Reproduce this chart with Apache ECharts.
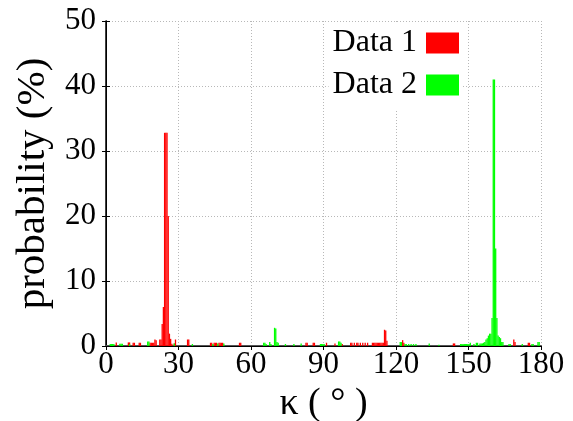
<!DOCTYPE html>
<html>
<head>
<meta charset="utf-8">
<script src="https://cdn.jsdelivr.net/npm/echarts@6/dist/echarts.min.js"></script>
<style>
html,body{margin:0;padding:0;background:#fff;}
</style>
</head>
<body>
<div id="chart" style="width:573px;height:421px;"></div>
<script>
// bin centres (deg, 0.5 deg bins) and probability (%)
var kappa1 = [4.25, 9.25, 9.75, 11.25, 11.75, 13.75, 14.25, 18.25, 18.75, 19.25, 19.75, 20.25, 20.75,
    22.25, 22.75, 23.25, 23.75, 24.25, 24.75, 25.25, 25.75, 26.25, 26.75, 27.25, 28.25, 28.75,
    33.75, 34.25, 43.25, 43.75, 44.75, 45.25, 45.75, 46.75, 47.25, 47.75, 48.25, 55.25, 55.75,
    82.75, 83.25, 85.75, 86.25, 91.25, 94.75, 97.75,
    101.25, 101.75, 102.75, 103.75, 104.25, 105.25, 106.25, 107.25, 108.25,
    110.25, 110.75, 111.25, 111.75, 112.25, 112.75, 113.25, 113.75, 114.25, 114.75, 115.25, 115.75, 116.25,
    122.75, 123.25, 143.75, 144.25, 156.25, 168.75, 169.25, 174.75, 175.25];
var prob1 = [0.55, 0.55, 0.55, 0.5, 0.5, 0.5, 0.5, 0.5, 0.5, 0.5, 0.5, 1.0, 0.9,
    1.0, 1.0, 3.4, 6.0, 32.8, 32.8, 32.8, 20.0, 1.9, 1.1, 0.35, 0.4, 1.0,
    1.0, 1.0, 0.5, 0.5, 0.5, 0.5, 0.5, 0.5, 0.5, 0.5, 0.5, 0.5, 0.5,
    0.5, 0.5, 0.5, 0.5, 0.5, 0.4, 0.3,
    0.5, 0.5, 0.5, 0.5, 0.5, 0.5, 0.5, 0.5, 0.5,
    0.5, 0.5, 0.5, 0.5, 0.5, 0.5, 0.5, 0.5, 0.5, 0.5, 2.5, 2.4, 0.8,
    0.9, 0.5, 0.4, 0.4, 0.3, 1.0, 0.6, 0.5, 0.5];

var kappa2 = [1.75, 2.25, 2.75, 3.25, 5.75, 6.25, 6.75, 9.75, 17.25, 17.75, 28.25, 35.75, 44.25, 46.25, 48.75,
    65.25, 65.75, 66.25, 67.75, 68.25, 69.75, 70.25, 70.75, 71.25, 74.25, 77.75, 80.75,
    88.75, 89.25, 89.75, 90.25, 96.25, 96.75, 97.25,
    121.75, 122.25, 123.75, 124.25, 125.25, 126.25, 127.25, 128.25, 133.75, 137.75,
    146.75, 147.25, 147.75, 148.25, 148.75, 149.25, 149.75, 150.25, 150.75, 152.25, 153.25, 153.75,
    154.75, 155.25, 155.75, 156.25, 156.75, 157.25, 157.75, 158.25, 158.75, 159.25, 159.75,
    160.25, 160.75, 161.25, 161.75, 162.25, 162.75, 163.25, 163.75, 164.25,
    166.75, 167.25, 172.25, 176.25, 176.75, 178.75, 179.25];
var prob2 = [0.3, 0.3, 0.3, 0.3, 0.35, 0.35, 0.35, 0.3, 0.7, 0.7, 0.4, 0.3, 0.3, 0.4, 0.4,
    0.5, 0.5, 0.3, 0.6, 0.3, 2.8, 2.7, 0.6, 0.5, 0.3, 0.3, 0.4,
    0.3, 0.3, 0.3, 0.3, 0.7, 0.7, 0.5,
    0.6, 0.6, 0.3, 0.3, 0.3, 0.3, 0.3, 0.3, 0.4, 0.2,
    0.3, 0.3, 0.3, 0.3, 0.3, 0.3, 0.3, 0.3, 0.5, 0.3, 0.5, 0.5,
    0.4, 0.4, 0.4, 0.5, 0.6, 1.0, 1.2, 1.6, 1.9, 1.9, 4.3,
    41.0, 41.0, 15.0, 4.3, 1.6, 1.4, 1.2, 0.6, 0.6,
    0.3, 0.3, 0.3, 0.3, 0.3, 0.6, 0.6];

var xTicks = [0, 30, 60, 90, 120, 150, 180];
var yTicks = [0, 10, 20, 30, 40, 50];

function pairs(xs, ys){
    var out = []
    for (var i = 0; i < xs.length; i++) out.push([xs[i], ys[i]])
    return out
}

var serif = '"Liberation Serif", "DejaVu Serif", serif'
var grid = { left: 106, right: 32, top: 21, bottom: 75, outerBoundsMode: 'none', containLabel: false }
var dotted = { show: true, lineStyle: { color: '#b8b8b8', type: [1, 2], width: 1 } }

var myChart = echarts.init(document.getElementById('chart'))
var option = {
    animation: false,
    backgroundColor: '#fff',
    grid: grid,
    legend: {
        data: ['Data 1', 'Data 2'],
        icon: 'rect',
        orient: 'vertical',
        right: 110,
        top: 22,
        align: 'right',
        backgroundColor: '#fff',
        padding: [5, 4, 8, 4],
        itemWidth: 33,
        itemHeight: 21,
        itemGap: 10,
        textStyle: { fontFamily: serif, fontSize: 32, color: '#000', padding: [0, 4, 0, 0] }
    },
    xAxis: [
        {
            type: 'value', min: 0, max: 180, interval: 30,
            name: 'κ ( ° )', nameLocation: 'middle', nameGap: 32,
            nameTextStyle: { fontFamily: serif, fontSize: 38, color: '#000' },
            axisLine: { show: true, lineStyle: { color: '#555', width: 2 } },
            axisTick: { show: true, inside: false, length: 4, lineStyle: { color: '#000' } },
            axisLabel: { fontFamily: serif, fontSize: 31, color: '#000', margin: 3,
                formatter: function(v){ return xTicks.indexOf(v) >= 0 ? String(v) : '' } },
            splitLine: dotted
        },
        {
            type: 'value', position: 'top', min: 0, max: 180, interval: 30,
            axisLine: { show: true, lineStyle: { color: '#000', width: 1 } },
            axisTick: { show: true, inside: true, length: 4, lineStyle: { color: '#000' } },
            axisLabel: { show: false },
            splitLine: { show: false }
        }
    ],
    yAxis: [
        {
            type: 'value', min: 0, max: 50, interval: 10,
            name: 'probability (%)', nameLocation: 'middle', nameGap: 49,
            nameTextStyle: { fontFamily: serif, fontSize: 41, color: '#000' },
            axisLine: { show: true, lineStyle: { color: '#000', width: 1.5 } },
            axisTick: { show: true, inside: true, length: 4, lineStyle: { color: '#000' } },
            axisLabel: { fontFamily: serif, fontSize: 31, color: '#000', margin: 10,
                formatter: function(v){ return yTicks.indexOf(v) >= 0 ? String(v) : '' } },
            splitLine: dotted
        },
        {
            type: 'value', position: 'right', min: 0, max: 50, interval: 10,
            axisLine: { show: true, lineStyle: { color: '#000', width: 1 } },
            axisTick: { show: true, inside: true, length: 4, lineStyle: { color: '#000' } },
            axisLabel: { show: false },
            splitLine: { show: false }
        }
    ],
    series: [
        {
            name: 'Data 1', type: 'bar', xAxisIndex: 0, yAxisIndex: 0,
            barWidth: 1.3, barGap: '-100%',
            itemStyle: { color: '#ff0000' },
            data: pairs(kappa1, prob1)
        },
        {
            name: 'Data 2', type: 'bar', xAxisIndex: 0, yAxisIndex: 0,
            barWidth: 1.3, barGap: '-100%',
            itemStyle: { color: '#00ff00' },
            data: pairs(kappa2, prob2)
        }
    ]
}
myChart.setOption(option, true)
</script>
</body>
</html>
